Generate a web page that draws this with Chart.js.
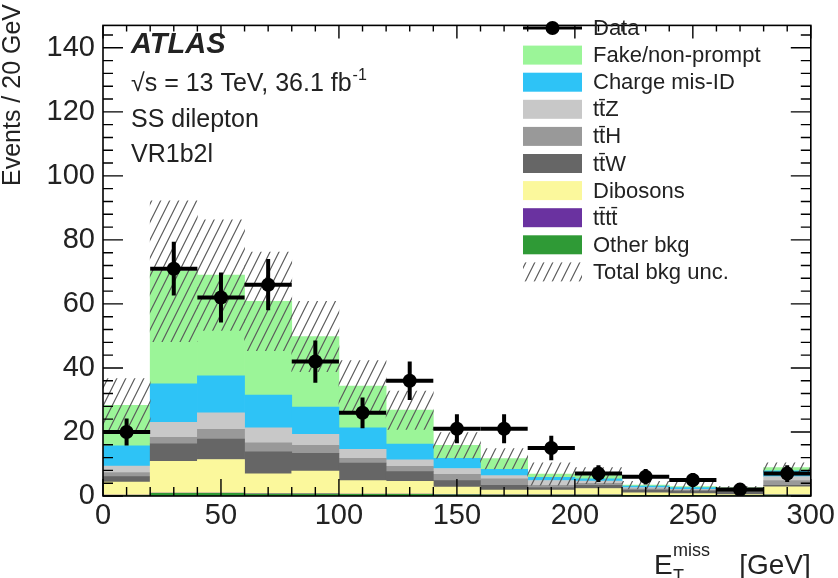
<!DOCTYPE html>
<html>
<head>
<meta charset="utf-8">
<script src="https://cdn.jsdelivr.net/npm/chart.js@4.4.1/dist/chart.umd.min.js"></script>
<style>
  html, body { margin: 0; padding: 0; background: #fff; }
</style>
</head>
<body>
<canvas id="graph" width="838" height="578"></canvas>
<script>
// E_T^miss bins, 20 GeV wide
const binCenters = [10, 30, 50, 70, 90, 110, 130, 150, 170, 190, 210, 230, 250, 270, 290]
const binWidth = 20

// background stack, bottom to top
const otherBkg = [0.2, 0.8, 0.8, 0.6, 0.6, 0.5, 0.5, 0.4, 0.3, 0.3, 0.3, 0.2, 0.2, 0.1, 0.3]
const ttttBkg = [0.05, 0.1, 0.1, 0.1, 0.1, 0.1, 0.1, 0.05, 0.05, 0.05, 0.05, 0.02, 0.02, 0.02, 0.05]
const dibosons = [4.1, 9.9, 10.5, 6.2, 7.1, 4.2, 4.0, 2.35, 1.5, 1.5, 2.0, 0.8, 0.5, 0.3, 2.5]
const ttW = [1.7, 5.5, 6.4, 6.9, 5.5, 5.5, 3.0, 2.0, 1.5, 0.8, 1.0, 0.8, 0.8, 1.2, 0.5]
const ttH = [1.3, 2.0, 3.0, 2.8, 2.5, 1.5, 1.7, 2.0, 2.0, 0.7, 0.6, 0.4, 0.3, 0.4, 1.5]
const ttZ = [2.0, 4.7, 5.2, 4.7, 3.5, 2.8, 2.0, 1.8, 1.0, 1.5, 0.7, 0.4, 0.3, 0.3, 1.2]
const chargeMisID = [6.3, 12, 11.5, 10.2, 8.5, 6.7, 4.9, 3.2, 2.0, 1.0, 0.7, 0.5, 0.5, 0.1, 1.8]
const fakes = [12.7, 35.2, 31.5, 29.3, 22, 13, 10.6, 4.0, 3.3, 1.0, 1.0, 0.3, 0.3, 0.1, 1.0]
const totalUnc = [8.3, 22, 17.3, 15.4, 11, 8, 6, 4, 3.2, 3.5, 2.5, 1.2, 1.5, 0.5, 1.5]

// observed data
const dataEvents = [20, 71, 62, 66, 42, 26, 36, 21, 21, 15, 7, 6, 5, 2, 7]
const dataErr = [4.2, 8.4, 7.8, 8.0, 6.6, 4.8, 6.0, 4.5, 4.5, 3.8, 2.6, 2.4, 2.2, 1.4, 2.6]

// axis ticks
const xTicks = [0, 50, 100, 150, 200, 250, 300]
const yTicks = [0, 20, 40, 60, 80, 100, 120, 140]

const FONT = "'Liberation Sans', Arial, Helvetica, sans-serif"
Chart.defaults.font.family = FONT

const makeHatch = () => {
  const c = document.createElement('canvas')
  c.width = 9
  c.height = 18
  const g = c.getContext('2d')
  g.strokeStyle = '#5a5a5a'
  g.lineWidth = 1.2
  g.beginPath()
  g.moveTo(0, 18); g.lineTo(9, 0)
  g.moveTo(-1, 2); g.lineTo(1, -2)
  g.moveTo(8, 20); g.lineTo(10, 16)
  g.stroke()
  return g.createPattern(c, 'repeat')
}
const hatch = makeHatch()

const stack = [
  { label: 'Other bkg', values: otherBkg, color: '#2f9a36' },
  { label: 'tt\u0304tt\u0304', values: ttttBkg, color: '#6a32a0' },
  { label: 'Dibosons', values: dibosons, color: '#fbf89c' },
  { label: 'tt\u0304W', values: ttW, color: '#666666' },
  { label: 'tt\u0304H', values: ttH, color: '#999999' },
  { label: 'tt\u0304Z', values: ttZ, color: '#c8c8c8' },
  { label: 'Charge mis-ID', values: chargeMisID, color: '#2ec3f6' },
  { label: 'Fake/non-prompt', values: fakes, color: '#9bf598' }
]

const totals = binCenters.map((_, i) => stack.reduce((s, d) => s + d.values[i], 0))

const errorBars = {
  id: 'errorBars',
  beforeDatasetDraw(chart, args) {
    if (args.index !== 0) return
    const { ctx, scales: { x, y } } = chart
    ctx.save()
    ctx.strokeStyle = '#000'
    ctx.lineWidth = 4
    dataEvents.forEach((n, i) => {
      const cx = x.getPixelForValue(binCenters[i])
      const cy = y.getPixelForValue(n)
      ctx.beginPath()
      ctx.moveTo(x.getPixelForValue(binCenters[i] - binWidth / 2), cy)
      ctx.lineTo(x.getPixelForValue(binCenters[i] + binWidth / 2), cy)
      ctx.moveTo(cx, y.getPixelForValue(n - dataErr[i]))
      ctx.lineTo(cx, y.getPixelForValue(n + dataErr[i]))
      ctx.stroke()
    })
    ctx.restore()
  }
}

const frameAndText = {
  id: 'frameAndText',
  afterDraw(chart) {
    const { ctx, chartArea: { left, right, top, bottom }, scales: { x, y } } = chart
    ctx.save()

    // ROOT style frame with inward ticks
    ctx.strokeStyle = '#000'
    ctx.lineWidth = 1.6
    ctx.strokeRect(left, top, right - left, bottom - top)
    ctx.lineWidth = 1.4
    ctx.beginPath()
    for (let v = 0; v <= 300; v += 10) {
      const px = x.getPixelForValue(v)
      const major = v % 50 === 0
      ctx.moveTo(px, bottom); ctx.lineTo(px, bottom - (major ? 17 : 9))
      ctx.moveTo(px, top); ctx.lineTo(px, top + (major ? 13 : 6))
    }
    for (let v = 0; v <= y.max; v += 4) {
      const py = y.getPixelForValue(v)
      const len = v % 20 === 0 ? 20 : 10
      ctx.moveTo(left, py); ctx.lineTo(left + len, py)
      ctx.moveTo(right, py); ctx.lineTo(right - len, py)
    }
    ctx.stroke()

    // axis titles
    ctx.fillStyle = '#222'
    ctx.save()
    ctx.translate(13, 4)
    ctx.rotate(-Math.PI / 2)
    ctx.font = `25px ${FONT}`
    ctx.textAlign = 'right'
    ctx.textBaseline = 'middle'
    ctx.fillText('Events / 20 GeV', 0, 0)
    ctx.restore()

    ctx.textBaseline = 'alphabetic'
    ctx.textAlign = 'left'
    ctx.font = `28px ${FONT}`
    const unit = ' [GeV]'
    const uw = ctx.measureText(unit).width
    ctx.fillText(unit, right - uw, 574)
    ctx.fillText('E', 654, 574)
    ctx.font = `18px ${FONT}`
    ctx.fillText('T', 673, 582)
    ctx.fillText('miss', 673, 556)

    // labels
    ctx.font = `bold italic 29px ${FONT}`
    ctx.fillText('ATLAS', 131, 53)
    ctx.font = `25px ${FONT}`
    ctx.fillText('\u221As = 13 TeV, 36.1 fb', 131, 91)
    const w = ctx.measureText('\u221As = 13 TeV, 36.1 fb').width
    ctx.font = `16px ${FONT}`
    ctx.fillText('-1', 131 + w + 1, 80)
    ctx.font = `25px ${FONT}`
    ctx.fillText('SS dilepton', 131, 127)
    ctx.fillText('VR1b2l', 131, 162)

    // legend
    const lx = 523, bw = 59, bh = 19, tx = 593
    const entries = [{ label: 'Data', kind: 'data' }]
    for (let i = stack.length - 1; i >= 0; i--) entries.push({ label: stack[i].label, color: stack[i].color })
    entries.push({ label: 'Total bkg unc.', kind: 'unc' })
    ctx.font = `22px ${FONT}`
    ctx.textBaseline = 'middle'
    entries.forEach((e, i) => {
      const cy = 28 + i * 27.1
      if (e.kind === 'data') {
        ctx.strokeStyle = '#000'
        ctx.lineWidth = 3
        ctx.beginPath()
        ctx.moveTo(lx, cy); ctx.lineTo(lx + bw, cy)
        ctx.stroke()
        ctx.fillStyle = '#000'
        ctx.beginPath()
        ctx.arc(lx + bw / 2, cy, 7, 0, Math.PI * 2)
        ctx.fill()
      } else if (e.kind === 'unc') {
        ctx.fillStyle = hatch
        ctx.fillRect(lx, cy - bh / 2, bw, bh)
      } else {
        ctx.fillStyle = e.color
        ctx.fillRect(lx, cy - bh / 2, bw, bh)
      }
      ctx.fillStyle = '#222'
      ctx.fillText(e.label, tx, cy + 1)
    })
    ctx.restore()
  }
}

const datasets = [
  {
    label: 'Data',
    type: 'scatter',
    data: binCenters.map((x, i) => ({ x, y: dataEvents[i] })),
    stack: 'data',
    pointRadius: 7,
    pointHoverRadius: 7,
    backgroundColor: '#000',
    borderColor: '#000',
    borderWidth: 0
  },
  {
    label: 'Total bkg unc.',
    data: binCenters.map((x, i) => ({ x, y: [totals[i] - totalUnc[i], totals[i] + totalUnc[i]] })),
    stack: 'unc',
    backgroundColor: hatch,
    grouped: false,
    barPercentage: 1,
    categoryPercentage: 1,
    borderWidth: 0
  },
  ...stack.map(s => ({
    label: s.label,
    data: binCenters.map((x, i) => ({ x, y: s.values[i] })),
    stack: 'bkg',
    backgroundColor: s.color,
    grouped: false,
    barPercentage: 1,
    categoryPercentage: 1,
    borderWidth: 0
  }))
]

new Chart(document.getElementById('graph'), {
  type: 'bar',
  data: { datasets },
  plugins: [errorBars, frameAndText],
  options: {
    responsive: false,
    animation: false,
    layout: { padding: { left: 0, right: 21, top: 5, bottom: 0 } },
    plugins: { legend: { display: false }, tooltip: { enabled: false } },
    scales: {
      x: {
        type: 'linear',
        min: 0,
        max: 300,
        offset: false,
        grid: { display: false, drawTicks: false },
        border: { display: false },
        afterBuildTicks: s => { s.ticks = xTicks.map(v => ({ value: v })) },
        afterFit: s => { s.height = 82 },
        ticks: { font: { size: 29 }, color: '#222', padding: 3, maxRotation: 0 }
      },
      y: {
        min: 0,
        max: 147,
        stacked: true,
        grid: { display: false, drawTicks: false },
        border: { display: false },
        afterBuildTicks: s => { s.ticks = yTicks.map(v => ({ value: v })) },
        afterFit: s => { s.width = 103 },
        ticks: { font: { size: 29 }, color: '#222', padding: 8 }
      }
    }
  }
})
</script>
</body>
</html>
